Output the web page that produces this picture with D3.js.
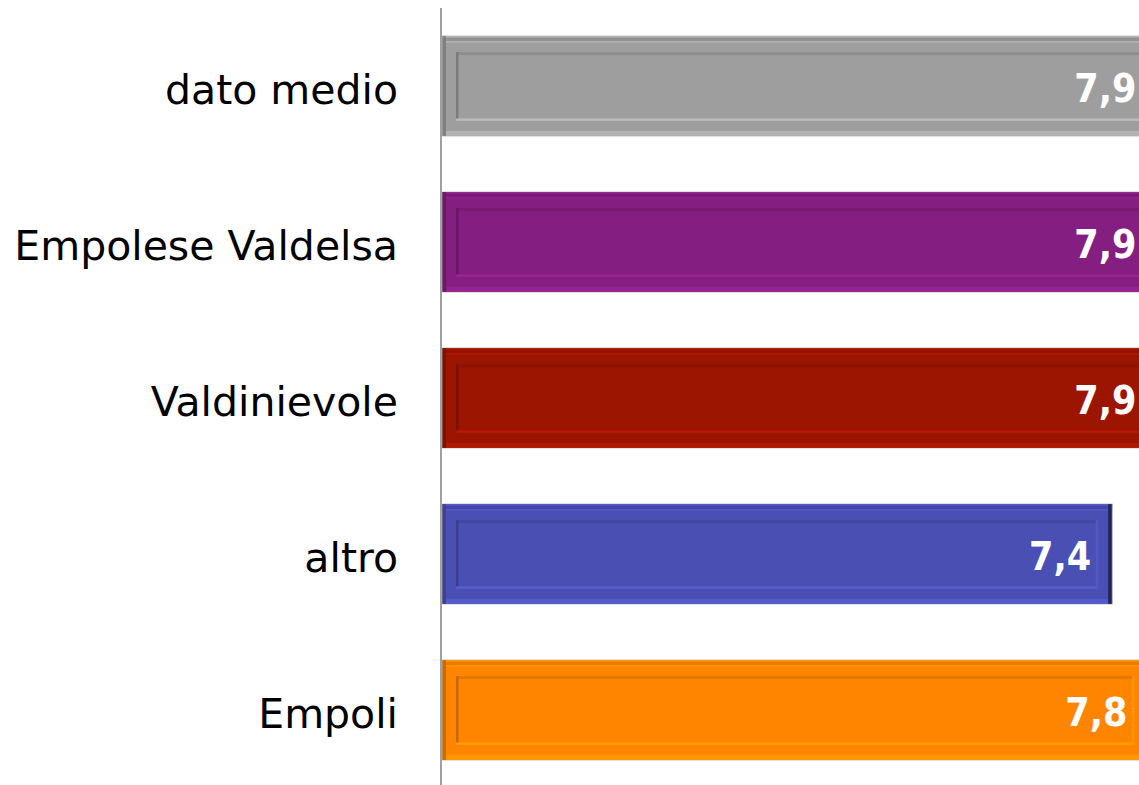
<!DOCTYPE html>
<html>
<head>
<meta charset="utf-8">
<script src="https://cdn.jsdelivr.net/npm/d3@7"></script>
<style>
  body { margin: 0; background: #fff; }
  svg { display: block; }
</style>
</head>
<body>
<div id="chart"></div>
<script>
  // chart data
  const categories = ["dato medio", "Empolese Valdelsa", "Valdinievole", "altro", "Empoli"];
  const values = [7.9, 7.9, 7.9, 7.4, 7.8];
  const labels = ["7,9", "7,9", "7,9", "7,4", "7,8"];
  const colors = ["#9e9e9e", "#841e80", "#9c1500", "#4a4fb3", "#ff8500"];

  const width = 1139, height = 785;
  const axisX = 441;
  const font = "'DejaVu Sans', Verdana, sans-serif";
  const valueFont = "'DejaVu Sans Condensed', 'DejaVu Sans', sans-serif";

  const svg = d3.select("#chart").append("svg")
    .attr("width", width)
    .attr("height", height);

  const x = d3.scaleLinear().domain([0, 10]).range([axisX, axisX + 907]);
  const y = d3.scaleBand().domain(categories).range([8, 788]).paddingInner(0.36).paddingOuter(0.18);

  const bh = y.bandwidth();

  const bars = svg.append("g").selectAll("g.bar")
    .data(categories)
    .join("g")
    .attr("class", "bar");

  bars.each(function (d, i) {
    const gb = d3.select(this);
    const c = d3.color(colors[i]);
    const x0 = axisX + 1, y0 = y(d);
    const w = x(values[i]) - x0;
    const hex = (col) => col.formatHex();

    // base fill
    gb.append("rect").attr("x", x0).attr("y", y0).attr("width", w).attr("height", bh).attr("fill", hex(c));

    // outer bevel
    gb.append("rect").attr("x", x0).attr("y", y0).attr("width", w).attr("height", 5).attr("fill", hex(c.darker(0.25)));
    gb.append("rect").attr("x", x0).attr("y", y0).attr("width", w).attr("height", 1.5).attr("fill", hex(c.brighter(0.4)));
    gb.append("rect").attr("x", x0).attr("y", y0 + 5).attr("width", w).attr("height", 1.5).attr("fill", hex(c.brighter(0.35)));
    gb.append("rect").attr("x", x0).attr("y", y0 + bh - 5).attr("width", w).attr("height", 5).attr("fill", hex(c.brighter(0.35)));
    gb.append("rect").attr("x", x0).attr("y", y0).attr("width", 4).attr("height", bh).attr("fill", hex(c.darker(0.6)));
    gb.append("rect").attr("x", x0 + w - 4).attr("y", y0).attr("width", 4).attr("height", bh).attr("fill", hex(c.darker(2.2)));

    // inner frame
    const ix = x0 + 14, iy = y0 + 16, iw = w - 28, ih = bh - 31;
    gb.append("rect").attr("x", ix).attr("y", iy).attr("width", iw).attr("height", 3).attr("fill", hex(c.darker(0.3)));
    gb.append("rect").attr("x", ix).attr("y", iy).attr("width", 2.5).attr("height", ih).attr("fill", hex(c.darker(0.7)));
    gb.append("rect").attr("x", ix).attr("y", iy + ih - 2.5).attr("width", iw).attr("height", 2.5).attr("fill", hex(c.brighter(0.45)));
    gb.append("rect").attr("x", ix + iw - 2.5).attr("y", iy).attr("width", 2.5).attr("height", ih).attr("fill", hex(c.brighter(0.3)));

    // thin outline
    gb.append("rect").attr("x", x0).attr("y", y0 - 0.5).attr("width", w).attr("height", bh + 1)
      .attr("fill", "none").attr("stroke", "#c8c8c8").attr("stroke-width", 1).attr("stroke-opacity", 0.6);

    // value label
    gb.append("text")
      .attr("x", x(values[i]) - 21)
      .attr("y", y0 + bh / 2)
      .attr("dy", "0.4em")
      .attr("text-anchor", "end")
      .attr("font-family", valueFont)
      .attr("font-weight", 700)
      .attr("font-size", "39px")
      .attr("fill", "#fff")
      .text(labels[i]);
  });

  // category labels
  svg.append("g").selectAll("text")
    .data(categories)
    .join("text")
    .attr("x", 398)
    .attr("y", d => y(d) + bh / 2)
    .attr("dy", "0.43em")
    .attr("text-anchor", "end")
    .attr("font-family", font)
    .attr("font-size", "41px")
    .attr("fill", "#000")
    .text(d => d);

  // vertical axis line
  svg.append("line")
    .attr("x1", axisX).attr("x2", axisX)
    .attr("y1", 8).attr("y2", 785)
    .attr("stroke", "#a0a0a0")
    .attr("stroke-width", 2);
</script>
</body>
</html>
